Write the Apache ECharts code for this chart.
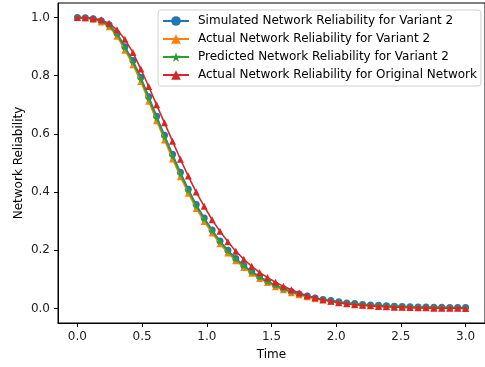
<!DOCTYPE html>
<html>
<head>
<meta charset="utf-8">
<script src="https://cdn.jsdelivr.net/npm/echarts@6/dist/echarts.min.js"></script>
<style>
  html, body { margin: 0; padding: 0; background: #fff; }
  #chart { width: 485px; height: 367px; }
</style>
</head>
<body>
<div id="chart"></div>
<script>
// Sample times (50 evenly spaced points on [0, 3])
const time = [0.000, 0.061, 0.122, 0.184, 0.245, 0.306, 0.367, 0.429, 0.490, 0.551,
  0.612, 0.673, 0.735, 0.796, 0.857, 0.918, 0.980, 1.041, 1.102, 1.163,
  1.224, 1.286, 1.347, 1.408, 1.469, 1.531, 1.592, 1.653, 1.714, 1.776,
  1.837, 1.898, 1.959, 2.020, 2.082, 2.143, 2.204, 2.265, 2.327, 2.388,
  2.449, 2.510, 2.571, 2.633, 2.694, 2.755, 2.816, 2.878, 2.939, 3.000];

const simulatedV2 = [1.000, 0.999, 0.996, 0.989, 0.975, 0.946, 0.900, 0.852, 0.795, 0.728,
  0.661, 0.595, 0.530, 0.468, 0.410, 0.357, 0.311, 0.270, 0.232, 0.200,
  0.172, 0.148, 0.127, 0.109, 0.094, 0.080, 0.068, 0.058, 0.050, 0.043,
  0.036, 0.031, 0.027, 0.023, 0.019, 0.017, 0.014, 0.012, 0.011, 0.009,
  0.008, 0.007, 0.006, 0.005, 0.005, 0.004, 0.004, 0.003, 0.003, 0.003];

const actualV2 = [1.000, 0.999, 0.994, 0.985, 0.968, 0.936, 0.888, 0.838, 0.780, 0.712,
  0.645, 0.579, 0.514, 0.453, 0.396, 0.344, 0.299, 0.259, 0.222, 0.191,
  0.164, 0.141, 0.121, 0.103, 0.089, 0.075, 0.064, 0.054, 0.047, 0.040,
  0.033, 0.029, 0.025, 0.021, 0.017, 0.015, 0.012, 0.010, 0.009, 0.007,
  0.006, 0.005, 0.004, 0.004, 0.003, 0.003, 0.002, 0.002, 0.002, 0.001];

const predictedV2 = [1.000, 0.999, 0.995, 0.987, 0.972, 0.942, 0.896, 0.847, 0.789, 0.722,
  0.655, 0.589, 0.524, 0.462, 0.405, 0.352, 0.307, 0.266, 0.229, 0.197,
  0.169, 0.146, 0.125, 0.107, 0.092, 0.079, 0.067, 0.057, 0.049, 0.042,
  0.035, 0.030, 0.026, 0.022, 0.018, 0.016, 0.013, 0.011, 0.010, 0.008,
  0.007, 0.006, 0.005, 0.004, 0.004, 0.003, 0.003, 0.002, 0.002, 0.002];

const actualOriginal = [1.000, 0.999, 0.997, 0.992, 0.980, 0.958, 0.925, 0.880, 0.823, 0.763,
  0.700, 0.638, 0.575, 0.513, 0.455, 0.400, 0.351, 0.305, 0.265, 0.229,
  0.197, 0.169, 0.145, 0.124, 0.106, 0.090, 0.076, 0.064, 0.053, 0.044,
  0.037, 0.030, 0.025, 0.020, 0.016, 0.013, 0.011, 0.009, 0.007, 0.006,
  0.004, 0.004, 0.003, 0.002, 0.002, 0.001, 0.001, 0.001, 0.001, 0.000];

const seriesNames = [
  'Simulated Network Reliability for Variant 2',
  'Actual Network Reliability for Variant 2',
  'Predicted Network Reliability for Variant 2',
  'Actual Network Reliability for Original Network'
];

const xTicks = [0.0, 0.5, 1.0, 1.5, 2.0, 2.5, 3.0];
const yTicks = [0.0, 0.2, 0.4, 0.6, 0.8, 1.0];

const colors = ['#1f77b4', '#ff7f0e', '#2ca02c', '#d62728'];
const starPath = 'path://M0,-10L2.35,-3.24L9.51,-3.09L3.8,1.24L5.88,8.09L0,4L-5.88,8.09L-3.8,1.24L-9.51,-3.09L-2.35,-3.24Z';
const symbols = ['circle', 'triangle', starPath, 'triangle'];
const symbolSizes = [7, 7, 7, 7];
const values = [simulatedV2, actualV2, predictedV2, actualOriginal];

const FONT = 'DejaVu Sans';
const FS = 12;

const chart = echarts.init(document.getElementById('chart'), null, { renderer: 'canvas' });

const axisCommon = {
  type: 'value',
  axisLine: { show: true, onZero: false, lineStyle: { color: '#000', width: 1 } },
  axisTick: { show: true, length: 4, lineStyle: { color: '#000', width: 1 } },
  splitLine: { show: false },
  axisLabel: { color: '#222', fontFamily: FONT, fontSize: FS, margin: 8,
               formatter: v => v.toFixed(1) },
  nameLocation: 'middle',
  nameMoveOverlap: false,
  nameTextStyle: { color: '#000', fontFamily: FONT, fontSize: FS }
};

chart.setOption({
  animation: false,
  backgroundColor: '#fff',
  color: colors,
  grid: {
    left: 58, top: 3, right: -4, bottom: 44,
    show: true, borderColor: '#000', borderWidth: 1, backgroundColor: 'transparent'
  },
  xAxis: Object.assign({}, axisCommon, {
    min: -0.15, max: 3.15,
    name: 'Time', nameGap: 26,
    axisTick: Object.assign({}, axisCommon.axisTick, { customValues: xTicks }),
    axisLabel: Object.assign({}, axisCommon.axisLabel, { customValues: xTicks })
  }),
  yAxis: Object.assign({}, axisCommon, {
    min: -0.05, max: 1.05,
    name: 'Network Reliability', nameGap: 33,
    axisTick: Object.assign({}, axisCommon.axisTick, { customValues: yTicks }),
    axisLabel: Object.assign({}, axisCommon.axisLabel, { customValues: yTicks })
  }),
  legend: {
    orient: 'vertical',
    left: 158, top: 10,
    padding: [5, 4, 5, 4],
    itemWidth: 26, itemHeight: 12, itemGap: 6,
    backgroundColor: 'rgba(255,255,255,0.8)',
    borderColor: '#d0d0d0', borderWidth: 1, borderRadius: 3,
    textStyle: { color: '#000', fontFamily: FONT, fontSize: FS, padding: [0, 0, 0, 4] },
    data: seriesNames
  },
  series: seriesNames.map((name, k) => ({
    name: name,
    type: 'line',
    z: 2 + k,
    data: time.map((t, i) => [t, values[k][i]]),
    symbol: symbols[k],
    symbolSize: symbolSizes[k],
    showAllSymbol: true,
    lineStyle: { width: 1.6, color: colors[k] },
    itemStyle: { color: colors[k], borderWidth: 0 }
  }))
});
</script>
</body>
</html>
